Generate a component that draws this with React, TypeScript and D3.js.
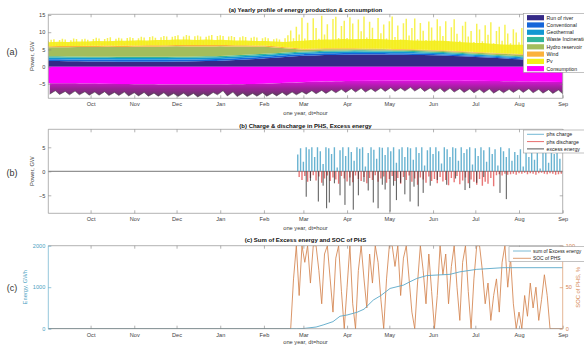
import React, { useEffect, useRef } from "react";
import * as d3 from "d3";

const width = 584;
const height = 347;
const left = 48.3;
const right = 562.7;
const panels = [
  { top: 14.3, bottom: 98.3 },
  { top: 129.3, bottom: 213.3 },
  { top: 245.7, bottom: 328.7 },
];
const font = "'Liberation Sans', Arial, Helvetica, sans-serif";
const grey = "#404040";

// all series are indexed by day, counted from 1 Sep
const monthDays = [0, 30, 61, 91, 122, 153, 181, 212, 242, 273, 303, 334, 365];
const weekDays = d3.range(54).map(i => Math.min(i * 7, 365));

// (a) production by source, GW
const sourceNames = ["Run of river", "Conventional", "Geothermal", "Waste Incineration", "Hydro reservoir", "Wind", "Pv"];
const sourceColors = ["#352a87", "#1565d9", "#1297d2", "#33b59a", "#a3bd5c", "#fbb23c", "#f4ee1a"];
const consColor = "#ff00ff";

const runOfRiver = [
  1.6, 1.6, 1.55, 1.55, 1.5, 1.5, 1.5, 1.45, 1.45, 1.45,
  1.45, 1.45, 1.45, 1.5, 1.5, 1.55, 1.6, 1.65, 1.75, 1.9,
  2.05, 2.2, 2.4, 2.6, 2.8, 3.0, 3.15, 3.25, 3.35, 3.4,
  3.45, 3.5, 3.5, 3.5, 3.5, 3.45, 3.45, 3.4, 3.35, 3.3,
  3.2, 3.1, 3.0, 2.85, 2.7, 2.55, 2.4, 2.25, 2.1, 2.0,
  1.9, 1.85, 1.8, 1.8,
];
const conventional = [0.55, 0.55, 0.55, 0.55, 0.55, 0.5, 0.5, 0.5, 0.45, 0.35, 0.3, 0.3, 0.3];
const geothermal = [0.5, 0.5, 0.5, 0.5, 0.5, 0.5, 0.45, 0.45, 0.45, 0.4, 0.35, 0.35, 0.35];
const wasteIncineration = [0.35, 0.35, 0.35, 0.35, 0.35, 0.35, 0.3, 0.3, 0.3, 0.3, 0.25, 0.25, 0.25];
const hydroReservoir = [2.6, 2.8, 2.9, 3.0, 2.8, 2.1, 0.5, 0.35, 0.3, 0.3, 0.35, 0.45, 0.45];
const wind = [0.3, 0.35, 0.4, 0.4, 0.4, 0.35, 0.3, 0.25, 0.2, 0.2, 0.2, 0.2, 0.25];
// dense part of the pv output (weekly)
const pvBand = [
  1.2, 1.3, 1.2, 1.3, 1.3, 1.4, 1.3, 1.4, 1.4, 1.5, 1.4, 1.5, 1.5, 1.6, 1.6, 1.5, 1.6, 1.5, 1.5, 1.4, 1.4, 1.3,
  1.3, 1.4, 1.5, 2.0,
  2.4, 2.5, 2.6, 2.6, 2.7, 2.6, 2.7, 2.8, 2.7, 2.6, 2.7, 2.6, 2.6, 2.7, 2.8, 2.7, 2.6, 2.6, 2.7, 2.6, 2.5, 2.6,
  2.7, 2.6, 2.5, 2.5, 2.6, 2.5,
];
// pv peaks, every second day
const pvPeaks = [
  1.6, 1.9, 2.0, 0.7, 1.8, 2.1, 1.9, 0.8, 1.7, 2.2, 2.0, 0.9, 1.9, 2.1, 1.8,
  0.7, 2.0, 2.3, 2.1, 0.8, 1.9, 2.2, 2.4, 0.9, 2.0, 2.3, 2.1, 0.8, 2.2, 2.4,
  2.2, 0.9, 2.1, 2.5, 2.3, 1.0, 2.4, 2.6, 2.2, 0.9, 2.3, 2.7, 2.5, 1.0, 2.4,
  2.6, 2.8, 1.1, 2.5, 2.9, 2.7, 1.0, 2.6, 2.8, 2.5, 1.2, 2.4, 2.7, 2.9, 1.1, 2.6,
  2.8, 2.6, 1.0, 2.5, 2.7, 2.4, 0.9, 2.3, 2.6, 2.4, 0.8, 2.2, 2.5, 2.3, 0.8,
  2.1, 2.4, 2.2, 0.7, 2.0, 2.3, 2.1, 0.9, 2.6, 3.5, 5.0, 2.8, 6.2, 4.0,
  9.0, 3.0, 7.5, 2.5, 8.8, 6.0, 2.8, 9.5, 4.0, 7.0, 2.2, 8.5, 9.2, 3.0, 6.5, 8.0,
  3.0, 9.0, 7.2, 2.5, 8.4, 5.0, 9.3, 3.2, 7.8, 6.0, 2.6, 8.9, 4.5, 7.0, 3.0,
  8.0, 9.4, 3.5, 6.8, 2.8, 7.5, 8.8, 4.0, 6.2, 9.0, 3.0, 7.7, 5.5, 2.8, 8.2, 6.5,
  3.0, 9.0, 7.0, 4.2, 8.5, 2.7, 6.8, 9.2, 5.0, 3.0, 7.4, 8.6, 4.4, 6.0, 2.9,
  8.2, 6.6, 3.2, 7.9, 5.2, 8.8, 2.8, 6.4, 7.6, 3.6, 8.3, 5.8, 3.0, 7.1, 6.2,
  3.4, 7.6, 6.0, 8.2, 3.2, 7.0, 5.0, 8.0, 3.0, 6.2, 7.6, 3.4, 6.8, 5.2, 7.4, 3.2,
];
// consumption, GW (drawn negative)
const consBase = [4.8, 4.9, 5.1, 5.2, 5.2, 5.0, 4.5, 4.2, 4.0, 4.0, 4.1, 4.3, 4.5];
const consWeekday = [
  8.0, 8.1, 8.2, 8.2, 8.3, 8.3, 8.4, 8.4, 8.5, 8.5, 8.6, 8.6, 8.7, 8.7,
  8.7, 8.8, 8.6, 8.2, 8.5, 8.7, 8.7, 8.6, 8.6, 8.5, 8.4, 8.2, 8.0, 7.9,
  7.8, 7.6, 7.5, 7.4, 7.4, 7.3, 7.2, 7.2, 7.1, 7.1, 7.2, 7.3, 7.4, 7.4,
  7.5, 7.6, 7.6, 7.7, 7.6, 7.5, 7.5, 7.6, 7.7, 7.8, 7.9,
];
const consWeekend = [
  7.0, 7.2, 7.1, 7.3, 7.4, 7.3, 7.5, 7.4, 7.6, 7.5, 7.7, 7.6, 7.8, 7.7,
  7.8, 7.9, 7.5, 7.0, 7.4, 7.7, 7.8, 7.6, 7.7, 7.5, 7.4, 7.3, 7.0, 6.9,
  6.8, 6.6, 6.4, 6.3, 6.4, 6.2, 6.1, 6.2, 6.0, 6.1, 6.2, 6.3, 6.3, 6.4,
  6.5, 6.6, 6.5, 6.7, 6.6, 6.5, 6.4, 6.6, 6.7, 6.8, 6.9,
];

// (b) pumped hydro storage, GW, every second day from phsStart
const phsStart = 177;
const phsCharge = [
  3.5, 4.8, 2.0, 5.0, 4.6, 5.0, 3.0, 5.0, 4.2, 1.5, 5.0, 4.8, 3.6, 5.0, 0.8, 4.4, 5.0, 3.2,
  5.0, 4.0, 2.2, 5.0, 4.7, 5.0, 1.0, 3.8, 5.0, 4.5, 2.6, 5.0, 4.9, 3.4, 5.0,
  4.2, 5.0, 1.8, 4.6, 5.0, 3.0, 5.0, 4.8, 2.4, 5.0, 3.8, 5.0, 1.2, 4.4, 5.0,
  3.6, 5.0, 4.2, 1.6, 5.0, 4.6, 3.0, 5.0, 4.8, 2.2, 5.0, 3.8, 4.6, 5.0, 1.4,
  4.8, 3.2, 5.0, 4.4, 2.0, 5.0, 3.6, 4.6, 1.2, 5.0, 4.2, 3.0, 4.8, 2.2, 4.0,
  3.4, 4.6, 1.0, 4.2, 3.0, 4.8, 2.4, 4.0, 0.6, 3.8, 4.4, 1.8, 4.6, 3.6, 4.0, 2.6,
];
const phsDischarge = [
  1.2, 1.8, 1.0, 2.2, 1.4, 0.8, 1.9, 1.1, 2.4, 1.5, 0.9, 2.0, 1.3, 1.7, 2.6, 1.0, 1.5, 2.1,
  1.3, 2.3, 0.9, 1.6, 2.0, 1.2, 2.5, 1.4, 1.8, 0.8, 2.2, 1.5, 1.1, 2.4, 1.6,
  1.0, 2.0, 1.4, 2.6, 1.2, 1.8, 0.9, 2.2, 1.5, 2.8, 1.3, 1.7, 2.4, 1.1, 2.0,
  1.6, 2.5, 1.2, 2.1, 1.8, 2.9, 1.4, 2.3, 1.0, 2.7, 1.9, 1.3, 2.5, 1.7, 2.2,
  2.8, 1.6, 3.0, 2.2, 2.6, 1.4, 3.1, 0.8, 0.6, 0.9, 0.5, 0.7, 0.6, 0.5, 0.7,
  0.4, 0.5, 0.3, 0.6, 0.4, 0.5, 0.7, 0.4, 0.3, 0.5, 0.6, 0.4, 0.5, 0.7, 0.6, 0.5,
];
// excess energy spikes [day, GW]
const excessSpikes = [
  [183, 5.3], [186, 2.0], [191.6, 6.3], [195, 3.0], [197.5, 7.7], [199.4, 6.5], [203, 2.5], [207, 5.0],
  [210.5, 7.0], [214, 3.0], [216.4, 8.0], [220, 5.0], [224, 2.2], [227, 4.0], [230.6, 6.5], [234, 7.7],
  [237, 2.8], [239, 3.8], [242.5, 8.4], [245, 3.0], [247, 6.0], [250, 2.4], [253, 4.8], [256.7, 6.3],
  [259.5, 3.2], [262.5, 7.3], [266, 4.5], [271, 3.0], [276, 1.8], [282.7, 2.8], [289, 1.5], [295.7, 3.9],
  [299, 3.5], [304, 2.4], [309, 1.2], [320.5, 4.5], [325, 5.8],
];

// (c) cumulative excess energy [day, GWh] and PHS state of charge (%, every second day)
const excessSum = [
  [0, 0], [176, 0], [181, 5], [190, 40], [195, 90], [202, 170], [207, 300], [212, 330], [219, 395],
  [224, 470], [230.6, 690], [236, 800], [242.5, 970], [252, 1050], [256, 1120], [261.4, 1210],
  [268.5, 1280], [285, 1310], [292, 1370], [304, 1430], [322.6, 1470], [365, 1470],
];
const socStart = 172;
const socPhs = [
  0, 60, 100, 40, 100,
  80, 100, 55, 100, 100, 70, 30, 90, 100, 60, 20, 85, 100, 45, 0,
  50, 100, 30, 0, 70, 100, 60, 25, 90, 55, 100, 80, 35, 0, 60,
  100, 100, 75, 100, 40, 85, 100, 60, 20, 0, 55, 100, 70, 30, 90, 45,
  0, 40, 100, 65, 90, 30, 75, 100, 50, 10, 80, 100, 45, 0, 60,
  100, 100, 70, 30, 55, 10, 40, 60, 20, 80, 100, 50, 85, 30, 0,
  20, 0, 40, 15, 55, 25, 50, 10, 35, 65, 40, 0,
];

const xLabel = "one year, dt=hour";
const titles = [
  "(a) Yearly profile of energy production & consumption",
  "(b) Charge & discharge in PHS, Excess energy",
  "(c) Sum of Excess energy and SOC of PHS",
];

export default function App() {
  const ref = useRef<SVGSVGElement>(null);

  useEffect(() => {
    const svg = d3.select(ref.current);
    svg.selectAll("*").remove();

    const t0 = Date.UTC(2018, 8, 1);
    const toDate = (day: number) => new Date(t0 + day * 864e5);
    const x = d3.scaleUtc().domain([toDate(0), toDate(365)]).range([left, right]);
    const xd = (day: number) => x(toDate(day)) as number;
    const monthTicks = d3.utcMonth.range(toDate(1), toDate(366));

    const defs = svg.append("defs");
    panels.forEach((p, i) => {
      defs.append("clipPath").attr("id", `clip${i}`)
        .append("rect").attr("x", left).attr("y", p.top)
        .attr("width", right - left).attr("height", p.bottom - p.top);
    });

    const styleAxis = (sel: any, color: string, textColor: string) => {
      sel.select(".domain").remove();
      sel.selectAll("line").attr("stroke", color).attr("stroke-width", 0.6);
      sel.selectAll("text").attr("fill", textColor).attr("font-size", 5.6).attr("font-family", font);
    };

    const frame = (i: number, yl: any, lTicks: number[], yr: any, rTicks: number[], lColor = grey, rColor = grey, rLabels = false) => {
      const p = panels[i];
      const g = svg.append("g");
      g.append("g").attr("transform", `translate(0,${p.bottom})`)
        .call(d3.axisBottom(x).tickValues(monthTicks).tickFormat((d: any) => d3.utcFormat("%b")(d))
          .tickSizeInner(-3).tickSizeOuter(0).tickPadding(4))
        .call(styleAxis, "#808080", grey);
      g.append("g").attr("transform", `translate(0,${p.top})`)
        .call(d3.axisTop(x).tickValues(monthTicks).tickFormat(() => "").tickSizeInner(-3).tickSizeOuter(0))
        .call(styleAxis, "#808080", grey);
      g.append("g").attr("transform", `translate(${left},0)`)
        .call(d3.axisLeft(yl).tickValues(lTicks).tickFormat(d3.format("d")).tickSizeInner(-3).tickSizeOuter(0).tickPadding(3))
        .call(styleAxis, lColor === grey ? "#808080" : lColor, lColor);
      g.append("g").attr("transform", `translate(${right},0)`)
        .call(d3.axisRight(yr).tickValues(rTicks).tickFormat((d: any) => (rLabels ? String(d) : ""))
          .tickSizeInner(-3).tickSizeOuter(0).tickPadding(3))
        .call(styleAxis, rColor === grey ? "#808080" : rColor, rColor);
      g.append("line").attr("x1", left).attr("x2", right).attr("y1", p.top).attr("y2", p.top)
        .attr("stroke", "#808080").attr("stroke-width", 0.6);
      g.append("line").attr("x1", left).attr("x2", right).attr("y1", p.bottom).attr("y2", p.bottom)
        .attr("stroke", "#808080").attr("stroke-width", 0.6);
      g.append("line").attr("x1", left).attr("x2", left).attr("y1", p.top).attr("y2", p.bottom)
        .attr("stroke", lColor === grey ? "#808080" : lColor).attr("stroke-width", 0.6);
      g.append("line").attr("x1", right).attr("x2", right).attr("y1", p.top).attr("y2", p.bottom)
        .attr("stroke", rColor === grey ? "#808080" : rColor).attr("stroke-width", 0.6);

      const cx = (left + right) / 2;
      const titleY = [12.3, 128, 242][i];
      svg.append("text").attr("x", cx).attr("y", titleY).attr("text-anchor", "middle")
        .attr("font-family", font).attr("font-size", 6).attr("font-weight", "bold").attr("fill", "#111")
        .text(titles[i]);
      svg.append("text").attr("x", cx).attr("y", [114.5, 230, 343.5][i]).attr("text-anchor", "middle")
        .attr("font-family", font).attr("font-size", 5.7).attr("fill", grey).text(xLabel);
      svg.append("text").attr("x", 12).attr("y", [55, 176.3, 291][i]).attr("text-anchor", "middle")
        .attr("font-family", font).attr("font-size", 9).attr("fill", "#333")
        .text(["(a)", "(b)", "(c)"][i]);
    };

    const yLabel = (text: string, cx: number, cy: number, color: string) => {
      svg.append("text").attr("transform", `translate(${cx},${cy}) rotate(-90)`)
        .attr("text-anchor", "middle").attr("font-family", font).attr("font-size", 5.8)
        .attr("fill", color).text(text);
    };

    const interp = (days: number[], vals: number[]) =>
      d3.scaleLinear().domain(days).range(vals).clamp(true);

    // ---------- (a) ----------
    const ya = d3.scaleLinear().domain([-9.2, 15.2]).range([panels[0].bottom, panels[0].top]);
    const layerFns = [
      interp(weekDays, runOfRiver),
      interp(monthDays, conventional),
      interp(monthDays, geothermal),
      interp(monthDays, wasteIncineration),
      interp(monthDays, hydroReservoir),
      interp(monthDays, wind),
    ];
    const stackTop = (k: number, d: number) => d3.sum(layerFns.slice(0, k), f => f(d));
    const grid = Array.from(new Set([...weekDays, ...monthDays])).sort((a, b) => a - b);
    const ga = svg.append("g").attr("clip-path", "url(#clip0)");

    layerFns.forEach((_, k) => {
      const area = d3.area<number>().x(d => xd(d))
        .y0(d => ya(stackTop(k, d))).y1(d => ya(stackTop(k + 1, d)));
      ga.append("path").attr("d", area(grid)).attr("fill", sourceColors[k]);
    });
    const pvBandFn = interp(weekDays, pvBand);
    const nL = layerFns.length;
    ga.append("path")
      .attr("d", d3.area<number>().x(d => xd(d)).y0(d => ya(stackTop(nL, d)))
        .y1(d => ya(stackTop(nL, d) + pvBandFn(d)))(grid))
      .attr("fill", sourceColors[6]).attr("fill-opacity", 0.9);
    const pvPath = pvPeaks.map((v, i) => {
      const day = i * 2;
      const b = stackTop(nL, day);
      return `M${xd(day)},${ya(b)}V${ya(b + v)}`;
    }).join("");
    ga.append("path").attr("d", pvPath).attr("stroke", sourceColors[6])
      .attr("stroke-width", 1.5).attr("stroke-opacity", 0.75).attr("fill", "none");

    const consBaseFn = interp(monthDays, consBase);
    ga.append("path")
      .attr("d", d3.area<number>().x(d => xd(d)).y0(ya(0)).y1(d => ya(-consBaseFn(d)))(monthDays))
      .attr("fill", consColor);
    const consPts: [number, number][] = [];
    consWeekday.forEach((v, w) => {
      consPts.push([Math.min(7 * w + 1, 365), v]);
      consPts.push([Math.min(7 * w + 5, 365), consWeekend[w]]);
    });
    const grad = defs.append("linearGradient").attr("id", "consGrad")
      .attr("gradientUnits", "userSpaceOnUse").attr("x1", 0).attr("x2", 0)
      .attr("y1", ya(-4)).attr("y2", ya(-8.6));
    grad.append("stop").attr("offset", 0).attr("stop-color", "#e010e0");
    grad.append("stop").attr("offset", 0.5).attr("stop-color", "#9a2396");
    grad.append("stop").attr("offset", 1).attr("stop-color", "#5e3a60");
    ga.append("path")
      .attr("d", d3.area<[number, number]>().x(d => xd(d[0]))
        .y0(d => ya(-consBaseFn(d[0]))).y1(d => ya(-d[1]))(consPts))
      .attr("fill", "url(#consGrad)");
    ga.append("path")
      .attr("d", d3.line<[number, number]>().x(d => xd(d[0])).y(d => ya(-d[1]))(consPts))
      .attr("fill", "none").attr("stroke", "#444").attr("stroke-width", 0.9).attr("stroke-opacity", 0.55);

    frame(0, ya, [-5, 0, 5, 10, 15], ya, [-5, 0, 5, 10, 15]);
    yLabel("Power, GW", 34, 56.3, grey);

    // legend (a)
    const la = svg.append("g");
    la.append("rect").attr("x", 523.3).attr("y", 13.3).attr("width", 70).attr("height", 59)
      .attr("fill", "#fff").attr("stroke", "#9a9a9a").attr("stroke-width", 0.6);
    [...sourceNames, "Consumption"].forEach((name, i) => {
      const cy = 17.7 + i * 7.28;
      la.append("rect").attr("x", 527).attr("y", cy - 2.6).attr("width", 17).attr("height", 5.2)
        .attr("fill", i < 7 ? sourceColors[i] : consColor);
      la.append("text").attr("x", 546.5).attr("y", cy + 1.9).attr("font-family", font)
        .attr("font-size", 5.2).attr("fill", "#222").text(name);
    });

    // ---------- (b) ----------
    const yb = d3.scaleLinear().domain([-8.75, 8.75]).range([panels[1].bottom, panels[1].top]);
    const gb = svg.append("g").attr("clip-path", "url(#clip1)");
    gb.append("line").attr("x1", left).attr("x2", right).attr("y1", yb(0)).attr("y2", yb(0))
      .attr("stroke", "#555").attr("stroke-width", 0.8);
    const stems = (pts: [number, number][], color: string, w: number, op: number) => {
      gb.append("path").attr("d", pts.map(([d, v]) => `M${xd(d)},${yb(0)}V${yb(v)}`).join(""))
        .attr("stroke", color).attr("stroke-width", w).attr("stroke-opacity", op).attr("fill", "none");
    };
    stems(phsCharge.map((v, i) => [phsStart + 2 * i, v] as [number, number]), "#4fa6c9", 1.4, 0.85);
    stems(phsDischarge.map((v, i) => [phsStart + 1 + 2 * i, -v] as [number, number]), "#e04848", 1.4, 0.75);
    stems(excessSpikes.map(([d, v]) => [d, -v] as [number, number]), "#2a2a2a", 1.0, 0.8);
    frame(1, yb, [-5, 0, 5], yb, [-5, 0, 5]);
    yLabel("Power, GW", 34, 171.3, grey);

    const lb = svg.append("g");
    lb.append("rect").attr("x", 523.3).attr("y", 130).attr("width", 70).attr("height", 23)
      .attr("fill", "#fff").attr("stroke", "#9a9a9a").attr("stroke-width", 0.6);
    [["phs charge", "#4fa6c9"], ["phs discharge", "#e04848"], ["excess energy", "#2a2a2a"]].forEach(([n, c], i) => {
      const cy = 134.3 + i * 7.3;
      lb.append("line").attr("x1", 527).attr("x2", 544).attr("y1", cy).attr("y2", cy)
        .attr("stroke", c).attr("stroke-width", 0.8);
      lb.append("text").attr("x", 546.5).attr("y", cy + 1.9).attr("font-family", font)
        .attr("font-size", 5.2).attr("fill", "#222").text(n);
    });

    // ---------- (c) ----------
    const blue = "#4d9fc2";
    const orange = "#d4844f";
    const yl = d3.scaleLinear().domain([0, 2000]).range([panels[2].bottom, panels[2].top]);
    const yr = d3.scaleLinear().domain([0, 100]).range([panels[2].bottom, panels[2].top]);
    const gc = svg.append("g").attr("clip-path", "url(#clip2)");
    const socPts: [number, number][] = [[0, 0], ...socPhs.map((v, i) => [socStart + 2 * i, v] as [number, number]), [365, 0]];
    gc.append("path")
      .attr("d", d3.line<[number, number]>().x(d => xd(d[0])).y(d => yr(d[1]))(socPts))
      .attr("fill", "none").attr("stroke", orange).attr("stroke-width", 1).attr("stroke-opacity", 0.85);
    gc.append("path")
      .attr("d", d3.line<number[]>().x(d => xd(d[0])).y(d => yl(d[1]))(excessSum))
      .attr("fill", "none").attr("stroke", "#5aa8c8").attr("stroke-width", 0.9);
    frame(2, yl, [0, 1000, 2000], yr, [0, 50, 100], blue, orange, true);
    yLabel("Energy, GWh", 27, 287.2, blue);
    yLabel("SOC of PHS, %", 580, 287.2, orange);

    const lc = svg.append("g");
    lc.append("rect").attr("x", 509).attr("y", 246.7).attr("width", 80).attr("height", 15)
      .attr("fill", "#fff").attr("stroke", "#9a9a9a").attr("stroke-width", 0.6);
    [["sum of Excess energy", "#5aa8c8"], ["SOC of PHS", orange]].forEach(([n, c], i) => {
      const cy = 251 + i * 7.3;
      lc.append("line").attr("x1", 513).attr("x2", 531).attr("y1", cy).attr("y2", cy)
        .attr("stroke", c).attr("stroke-width", 0.8);
      lc.append("text").attr("x", 533).attr("y", cy + 1.8).attr("font-family", font)
        .attr("font-size", 4.9).attr("fill", "#222").text(n);
    });
  }, []);

  return (
    <svg ref={ref} width={width} height={height}
      style={{ position: "absolute", left: 0, top: 0, background: "#fff" }} />
  );
}
